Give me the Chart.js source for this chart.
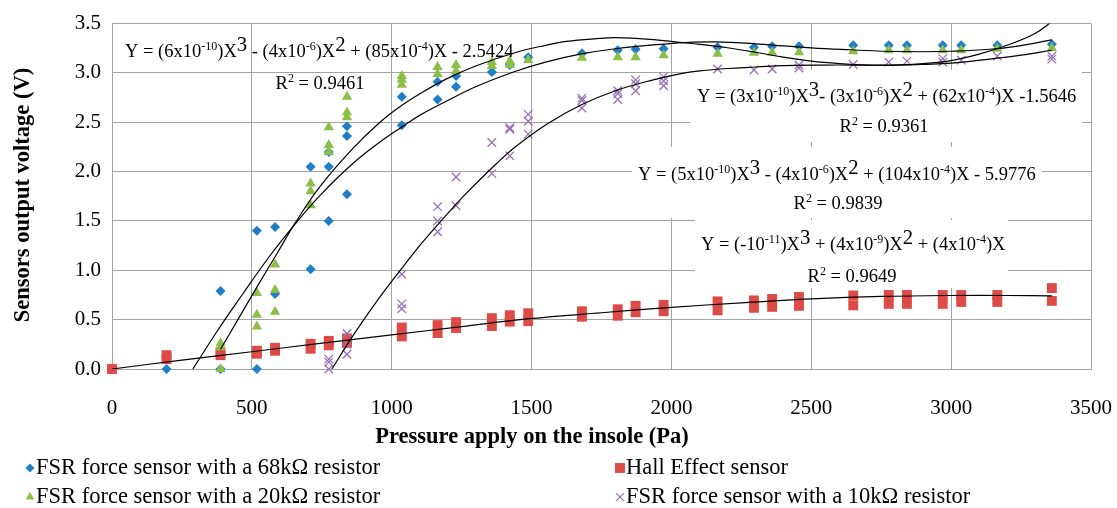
<!DOCTYPE html>
<html>
<head>
<meta charset="utf-8">
<title>Sensors output voltage vs pressure</title>
<script src="https://cdn.jsdelivr.net/npm/chart.js@4.4.1/dist/chart.umd.min.js"></script>
<style>
  html, body { margin: 0; padding: 0; background: #fff; }
  #wrap { width: 1117px; height: 508px; }
</style>
</head>
<body>
<div id="wrap"><canvas id="chart" width="1117" height="508"></canvas></div>
<script>
// Sensor readings (pressure in Pa, output in V)
const fsr68P = [0, 195, 388, 388, 518, 518, 583, 583, 710, 710, 775, 775, 775, 840, 840, 840, 1036, 1036, 1164, 1164,
  1230, 1230, 1358, 1422, 1488, 1680, 1808, 1872, 1972, 2165, 2295, 2360, 2456, 2650, 2777, 2842, 2970, 3036, 3165, 3360];
const fsr68V = [0, 0, 0, 0.79, 0, 1.40, 0.76, 1.44, 1.01, 2.05, 1.50, 2.05, 2.20, 1.77, 2.36, 2.46, 2.47, 2.76, 2.73, 2.91,
  2.86, 2.97, 3.01, 3.08, 3.16, 3.20, 3.23, 3.24, 3.245, 3.26, 3.26, 3.27, 3.27, 3.28, 3.28, 3.28, 3.28, 3.28, 3.28, 3.29];

const hallP = [0, 195, 195, 388, 388, 518, 518, 583, 583, 710, 710, 775, 775, 840, 840, 1036, 1036, 1164, 1164, 1230, 1230,
  1358, 1358, 1422, 1422, 1488, 1488, 1680, 1680, 1808, 1808, 1872, 1872, 1972, 1972, 2165, 2165, 2295, 2295, 2360, 2360,
  2456, 2456, 2650, 2650, 2777, 2777, 2842, 2842, 2970, 2970, 3036, 3036, 3165, 3165, 3360, 3360];
const hallV = [0, 0.10, 0.14, 0.14, 0.17, 0.155, 0.185, 0.185, 0.215, 0.205, 0.255, 0.24, 0.285, 0.265, 0.31, 0.33, 0.42,
  0.365, 0.445, 0.415, 0.475, 0.435, 0.515, 0.48, 0.545, 0.485, 0.565, 0.53, 0.585, 0.54, 0.605, 0.575, 0.64, 0.585, 0.65,
  0.595, 0.685, 0.62, 0.695, 0.63, 0.71, 0.64, 0.73, 0.645, 0.745, 0.66, 0.75, 0.66, 0.75, 0.66, 0.75, 0.68, 0.75, 0.68, 0.75,
  0.69, 0.82];

const fsr20P = [388, 388, 388, 518, 518, 518, 583, 583, 583, 710, 710, 710, 775, 775, 775, 840, 840, 840, 1036, 1036, 1036, 1164, 1164,
  1230, 1230, 1358, 1358, 1422, 1422, 1488, 1680, 1808, 1872, 1972, 2165, 2295, 2360, 2456, 2650, 2777, 2842, 2970, 3036, 3165, 3360];
const fsr20V = [0, 0.22, 0.26, 0.43, 0.55, 0.77, 0.58, 0.80, 1.06, 1.66, 1.80, 1.88, 2.20, 2.27, 2.45, 2.55, 2.60, 2.76, 2.97, 2.93, 2.88,
  3.06, 2.99, 3.08, 3.02, 3.11, 3.07, 3.12, 3.08, 3.13, 3.155, 3.16, 3.16, 3.18, 3.195, 3.205, 3.205, 3.21, 3.22, 3.23, 3.23, 3.23,
  3.23, 3.245, 3.25];

const fsr10P = [775, 775, 775, 840, 840, 840, 1036, 1036, 1036, 1164, 1164, 1164, 1230, 1230, 1358, 1358, 1422, 1422, 1422,
  1488, 1488, 1488, 1680, 1680, 1680, 1808, 1808, 1808, 1872, 1872, 1872, 1972, 1972, 1972, 2165, 2295, 2360, 2456, 2456,
  2650, 2777, 2842, 2970, 2970, 3036, 3165, 3360, 3360];
const fsr10V = [0, 0.07, 0.10, 0.15, 0.25, 0.36, 0.61, 0.66, 0.96, 1.39, 1.50, 1.645, 1.655, 1.945, 1.98, 2.295, 2.16, 2.43, 2.445,
  2.38, 2.51, 2.58, 2.645, 2.72, 2.745, 2.73, 2.79, 2.82, 2.82, 2.89, 2.93, 2.87, 2.92, 2.96, 3.04, 3.03, 3.04, 3.05, 3.08,
  3.085, 3.11, 3.12, 3.11, 3.145, 3.13, 3.17, 3.14, 3.17];

// Polynomial trendlines
const fit68P = [289, 380, 470, 560, 655, 744, 860, 958, 1035, 1100, 1200, 1300, 1435, 1550, 1674, 1800, 1983, 2065, 2161, 2300,
  2400, 2500, 2637, 2756, 2900, 3000, 3138, 3232, 3360];
const fit68V = [0, 0.40, 0.77, 1.13, 1.47, 1.76, 2.08, 2.30, 2.45, 2.57, 2.72, 2.86, 3.01, 3.11, 3.19, 3.245, 3.295, 3.31, 3.315, 3.295,
  3.275, 3.255, 3.235, 3.22, 3.215, 3.22, 3.24, 3.27, 3.335];

const fit20P = [388, 450, 520, 590, 655, 744, 863, 958, 1035, 1101, 1196, 1300, 1440, 1550, 1625, 1745, 1800, 1922, 2030, 2101,
  2200, 2300, 2400, 2500, 2600, 2700, 2800, 2900, 3000, 3100, 3200, 3300, 3360];
const fit20V = [0.2, 0.5, 0.84, 1.17, 1.48, 1.85, 2.24, 2.50, 2.67, 2.79, 2.94, 3.07, 3.205, 3.28, 3.32, 3.35, 3.358, 3.34, 3.31, 3.29,
  3.255, 3.21, 3.16, 3.12, 3.095, 3.08, 3.08, 3.095, 3.125, 3.19, 3.28, 3.40, 3.52];

const fit10P = [786, 860, 940, 1036, 1100, 1164, 1214, 1256, 1374, 1446, 1560, 1680, 1800, 1935, 2030, 2101, 2200, 2303, 2400, 2541,
  2660, 2779, 2880, 2970, 3060, 3138, 3250, 3360];
const fit10V = [0, 0.33, 0.66, 1.02, 1.25, 1.46, 1.62, 1.75, 2.08, 2.26, 2.49, 2.68, 2.82, 2.93, 2.99, 3.02, 3.045, 3.06, 3.075, 3.08,
  3.08, 3.08, 3.085, 3.095, 3.115, 3.14, 3.18, 3.23];

const fitHallP = [0, 250, 500, 744, 1000, 1250, 1494, 1750, 2000, 2250, 2500, 2750, 3000, 3200, 3360];
const fitHallV = [0, 0.09, 0.175, 0.26, 0.345, 0.43, 0.51, 0.57, 0.625, 0.67, 0.71, 0.735, 0.745, 0.745, 0.74];

// Axis ticks
const pressureTicks = [0, 500, 1000, 1500, 2000, 2500, 3000, 3500];
const voltageTicks = [0, 0.5, 1.0, 1.5, 2.0, 2.5, 3.0, 3.5];

// Trendline equations as shown on the figure ('sm' = small superscript, 'big' = raised power)
const fitEquations = [
  [['Y = (6x10'], ['-10', 'sm'], [')X'], ['3', 'big'], [' - (4x10'], ['-6', 'sm'], [')X'], ['2', 'big'], [' + (85x10'], ['-4', 'sm'], [')X - 2.5424']],
  [['Y = (3x10'], ['-10', 'sm'], [')X'], ['3', 'big'], ['- (3x10'], ['-6', 'sm'], [')X'], ['2', 'big'], [' + (62x10'], ['-4', 'sm'], [')X -1.5646']],
  [['Y = (5x10'], ['-10', 'sm'], [')X'], ['3', 'big'], [' - (4x10'], ['-6', 'sm'], [')X'], ['2', 'big'], [' + (104x10'], ['-4', 'sm'], [')X - 5.9776']],
  [['Y = (-10'], ['-11', 'sm'], [')X'], ['3', 'big'], [' + (4x10'], ['-9', 'sm'], [')X'], ['2', 'big'], [' + (4x10'], ['-4', 'sm'], [')X']]
];
const fitR2 = ['0.9461', '0.9361', '0.9839', '0.9649'];

// where Excel put the labels (pixels)
const EQ_POS = [[125, 57], [697, 102], [638, 180], [701, 250]];
const R2_POS = [[320, 89], [884, 132], [838, 209], [852, 282]];
const EQ_BOXES = [null, [690, 70, 1082, 142], [632, 147, 1042, 218], [695, 220, 1008, 288]];

const SERIF = '"Liberation Serif", "DejaVu Serif", serif';
const BLUE = '#1f7fc6';
const RED = '#de4a46';
const GREEN = '#8cbf47';
const PURPLE = '#9671b8';
const GRID = '#a3a3a3';

function pts(xs, ys) {
  return xs.map((x, i) => ({ x: x, y: ys[i] }));
}

function trend(label, xs, ys) {
  return {
    label: label,
    data: pts(xs, ys),
    showLine: true,
    borderColor: '#000',
    borderWidth: 1.2,
    pointRadius: 0,
    pointHoverRadius: 0,
    tension: 0.4,
    fill: false,
    order: 0,
    isTrend: true
  };
}

// Draw text with superscripts
function drawRich(ctx, parts, x, y, size, centered) {
  const pieces = parts.map(([t, kind]) => {
    const s = kind === 'sm' ? size * 0.65 : kind === 'big' ? size * 1.12 : size;
    const dy = kind === 'sm' ? size * 0.4 : kind === 'big' ? size * 0.3 : 0;
    ctx.font = s + 'px ' + SERIF;
    return { t: t, s: s, dy: dy, w: ctx.measureText(t).width };
  });
  let cx = x;
  if (centered) cx -= pieces.reduce((a, p) => a + p.w, 0) / 2;
  pieces.forEach(p => {
    ctx.font = p.s + 'px ' + SERIF;
    ctx.fillText(p.t, cx, y - p.dy);
    cx += p.w;
  });
}

const notesPlugin = {
  id: 'notes',
  beforeDatasetsDraw(chart) {
    // white label boxes hide the gridlines behind the equations
    const ctx = chart.ctx;
    ctx.save();
    ctx.fillStyle = '#fff';
    EQ_BOXES.forEach(b => {
      if (b) ctx.fillRect(b[0], b[1], b[2] - b[0], b[3] - b[1]);
    });
    ctx.restore();
  },
  afterDatasetsDraw(chart) {
    const ctx = chart.ctx;
    ctx.save();
    ctx.fillStyle = '#000';
    ctx.textBaseline = 'alphabetic';
    ctx.textAlign = 'left';
    fitEquations.forEach((eq, i) => {
      drawRich(ctx, eq, EQ_POS[i][0], EQ_POS[i][1], 18.5, false);
      drawRich(ctx, [['R'], ['2', 'sm'], [' = ' + fitR2[i]]], R2_POS[i][0], R2_POS[i][1], 18.5, true);
    });
    ctx.restore();
  },
  afterDraw(chart) {
    const ctx = chart.ctx;
    ctx.save();
    ctx.fillStyle = '#000';

    // axis titles
    ctx.font = 'bold 22.5px ' + SERIF;
    ctx.textAlign = 'center';
    ctx.textBaseline = 'alphabetic';
    ctx.fillText('Pressure apply on the insole (Pa)', 532, 443);
    ctx.translate(23, 195);
    ctx.rotate(-Math.PI / 2);
    ctx.textBaseline = 'middle';
    ctx.fillText('Sensors output voltage (V)', 0, 0);
    ctx.setTransform(1, 0, 0, 1, 0, 0);

    // legend, two columns
    const slots = [[30, 474], [620, 474], [30, 503], [620, 503]];
    const series = chart.data.datasets.filter(d => !d.isTrend);
    series.forEach((ds, i) => {
      const [mx, by] = slots[i];
      ctx.fillStyle = ds.backgroundColor;
      ctx.strokeStyle = ds.borderColor;
      ctx.lineWidth = ds.borderWidth;
      Chart.helpers.drawPoint(ctx, {
        pointStyle: ds.pointStyle,
        radius: ds.legendRadius,
        borderWidth: ds.borderWidth,
        rotation: 0
      }, mx, by - 6);
      ctx.fillStyle = '#000';
      ctx.font = '22.5px ' + SERIF;
      ctx.textAlign = 'left';
      ctx.textBaseline = 'alphabetic';
      ctx.fillText(ds.label, mx + 6, by);
    });
    ctx.restore();
  }
};

const tickFont = { family: SERIF, size: 21 };

const chart = new Chart(document.getElementById('chart'), {
  type: 'scatter',
  data: {
    datasets: [
      {
        label: 'FSR force sensor with a 68k\u03A9 resistor',
        data: pts(fsr68P, fsr68V),
        pointStyle: 'rectRot',
        pointRadius: 5,
        legendRadius: 4.5,
        backgroundColor: BLUE,
        borderColor: BLUE,
        borderWidth: 0,
        clip: false,
        order: 4
      },
      {
        label: 'Hall Effect sensor',
        data: pts(hallP, hallV),
        pointStyle: 'rect',
        pointRadius: 7,
        legendRadius: 7,
        backgroundColor: RED,
        borderColor: RED,
        borderWidth: 0,
        clip: false,
        order: 3
      },
      {
        label: 'FSR force sensor with a 20k\u03A9 resistor',
        data: pts(fsr20P, fsr20V),
        pointStyle: 'triangle',
        pointRadius: 6,
        legendRadius: 5,
        backgroundColor: GREEN,
        borderColor: GREEN,
        borderWidth: 0,
        clip: false,
        order: 2
      },
      {
        label: 'FSR force sensor with a 10k\u03A9 resistor',
        data: pts(fsr10P, fsr10V),
        pointStyle: 'crossRot',
        pointRadius: 6,
        legendRadius: 5.5,
        backgroundColor: PURPLE,
        borderColor: PURPLE,
        borderWidth: 1.3,
        clip: false,
        order: 1
      },
      trend('Poly. (68k\u03A9)', fit68P, fit68V),
      trend('Poly. (Hall)', fitHallP, fitHallV),
      trend('Poly. (20k\u03A9)', fit20P, fit20V),
      trend('Poly. (10k\u03A9)', fit10P, fit10V)
    ]
  },
  options: {
    responsive: false,
    animation: false,
    layout: { padding: { top: 20, right: 26, bottom: 79, left: 0 } },
    plugins: {
      legend: { display: false },
      tooltip: { enabled: false }
    },
    scales: {
      x: {
        type: 'linear',
        min: pressureTicks[0],
        max: pressureTicks[pressureTicks.length - 1],
        afterBuildTicks: s => { s.ticks = pressureTicks.map(v => ({ value: v })); },
        afterFit: s => {
          s.height = 60;
          // keep the plot edge fixed, the end labels fit in the margin anyway
          s.paddingLeft = 0;
          s.paddingRight = 0;
        },
        ticks: {
          font: tickFont,
          color: '#000',
          padding: 27,
          maxRotation: 0,
          callback: v => String(v)
        },
        grid: { color: GRID, lineWidth: 1, drawTicks: false },
        border: { color: GRID, width: 1 }
      },
      y: {
        type: 'linear',
        min: voltageTicks[0],
        max: voltageTicks[voltageTicks.length - 1],
        afterBuildTicks: s => { s.ticks = voltageTicks.map(v => ({ value: v })); },
        afterFit: s => { s.width = 112; },
        ticks: {
          font: tickFont,
          color: '#000',
          padding: 11,
          callback: v => v.toFixed(1)
        },
        grid: { color: GRID, lineWidth: 1, drawTicks: false },
        border: { color: GRID, width: 1 }
      }
    }
  },
  plugins: [notesPlugin]
});
</script>
</body>
</html>
